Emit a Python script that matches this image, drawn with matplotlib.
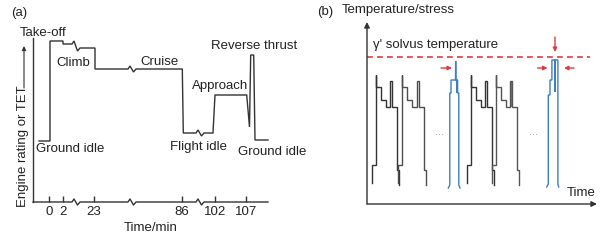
import matplotlib.pyplot as plt
from matplotlib.patches import FancyArrowPatch

plt.rcParams['font.family'] = ['Liberation Sans', 'DejaVu Sans']
plt.rcParams['font.size'] = 9.5

# (a) flight profile, schematic time position vs engine rating
flight_x = [6, 17, 17, 30, 30, 62, 62, 149.3, 150.3, 180, 182, 213.7, 216.5, 217.7, 220.7, 222, 235]
flight_h = [61, 61, 161, 161, 158, 154, 133, 133, 69, 69, 107, 107, 75, 147, 147, 62, 62]
axis_breaks = [43, 99, 167]
tick_pos = [16, 30, 61, 149, 182, 213]
tick_labels = ['0', '2', '23', '86', '102', '107']

# (b) repeated flight cycles, temperature/stress vs time
cycle_dx = [0, 0, 4, 4, 4, 9, 9, 14, 14, 18.3, 18.3, 20.6, 20.6, 25.6, 25.6, 27.3, 27.3]
cycle_h = [21, 39, 39, 129, 117, 117, 104, 104, 97, 97, 123, 123, 97, 97, 34, 34, 19]
cycle_starts = [4.7, 31.3, 99.7, 124.7]
cycle_colors = ['#333333', '#4d4d4d', '#333333', '#555555']
cycle_thick_spike = [False, False, False, True]

blue1_dx = [0, 1.5, 1.5, 2.7, 2.7, 7.2, 7.4, 7.6, 8.4, 8.4, 8.4, 9.3, 9.3, 10.5, 10.5, 11.7]
blue1_h = [16, 19, 111, 111, 124, 124, 143, 124, 124, 111, 124, 124, 111, 111, 19, 16]
blue1_start = 81.3

blue2_dx = [0, 1.6, 1.6, 3.3, 3.3, 5.2, 5.2, 8.2, 8.2, 8.2, 11.2, 11.2, 12]
blue2_h = [17, 20, 109, 109, 124, 124, 144, 144, 112, 144, 144, 20, 17]
blue2_start = 179.7

solvus_h = 147

W, H = 609, 240
TXT = '#222222'
RED = '#e0393e'
BLUE = '#3b7fc4'


def px(x, y):
    return x / W, 1 - y / H


def with_breaks(xs, hs, breaks):
    out_x, out_h = [xs[0]], [hs[0]]
    for i in range(1, len(xs)):
        x0, h0, x1, h1 = xs[i - 1], hs[i - 1], xs[i], hs[i]
        for b in breaks:
            if x0 < b < x1:
                out_x += [b - 4, b - 2, b + 1.5, b + 4]
                out_h += [h0, h0 + 3, h1 - 3, h1]
        out_x.append(x1)
        out_h.append(h1)
    return out_x, out_h


fig = plt.figure(figsize=(W / 100, H / 100), dpi=100)

# ---------------- panel (a) ----------------
ax_a = fig.add_axes([33 / W, 38 / H, 237 / W, 164 / H])
ax_a.set_xlim(0, 237)
ax_a.set_ylim(0, 164)
for s in ['top', 'right', 'bottom']:
    ax_a.spines[s].set_visible(False)
ax_a.spines['left'].set_color('#333333')
ax_a.spines['left'].set_linewidth(1)
ax_a.set_yticks([])

px_, ph_ = with_breaks(flight_x, flight_h, axis_breaks)
ax_a.plot(px_, ph_, color='#333333', lw=1, solid_joinstyle='miter')
bx, bh = with_breaks([0, 235], [0, 0], axis_breaks)
ax_a.plot(bx, bh, color='#333333', lw=1, clip_on=False)
ax_a.set_xticks(tick_pos, tick_labels)
ax_a.tick_params(axis='x', direction='in', length=4, width=1, pad=3, colors='#333333', labelcolor=TXT)

fig.text(*px(11, 13), '(a)', ha='left', va='center', color=TXT)
fig.text(*px(20, 33), 'Take-off', ha='left', va='center', color=TXT)
fig.text(*px(56, 63), 'Climb', ha='left', va='center', color=TXT)
fig.text(*px(140, 62), 'Cruise', ha='left', va='center', color=TXT)
fig.text(*px(192, 86), 'Approach', ha='left', va='center', color=TXT)
fig.text(*px(211, 46), 'Reverse thrust', ha='left', va='center', color=TXT)
fig.text(*px(36, 149), 'Ground idle', ha='left', va='center', color=TXT)
fig.text(*px(170, 147), 'Flight idle', ha='left', va='center', color=TXT)
fig.text(*px(238, 152), 'Ground idle', ha='left', va='center', color=TXT)
fig.text(*px(151, 228), 'Time/min', ha='center', va='center', color=TXT)
fig.text(*px(23, 146), 'Engine rating or TET', ha='center', va='center', rotation=90, color=TXT)
fig.add_artist(FancyArrowPatch(
    px(24, 88), px(24, 46), transform=fig.transFigure, arrowstyle='-|>',
    mutation_scale=6, color='#333333', lw=0.8, shrinkA=0, shrinkB=0))

# ---------------- panel (b) ----------------
ax_b = fig.add_axes([367 / W, 36 / H, 230 / W, 182 / H])
ax_b.set_xlim(0, 230)
ax_b.set_ylim(0, 182)
ax_b.axis('off')

arrow_kw = dict(arrowstyle='-|>', color='#333333', lw=1, mutation_scale=8, shrinkA=0, shrinkB=0)
ax_b.annotate('', xy=(0, 182), xytext=(0, 0), arrowprops=arrow_kw, annotation_clip=False)
ax_b.annotate('', xy=(230, 0), xytext=(0, 0), arrowprops=arrow_kw, annotation_clip=False)

ax_b.plot([0, 223], [solvus_h, solvus_h], color=RED, lw=1.2, dashes=(3.5, 2.5))

for start, col, thick in zip(cycle_starts, cycle_colors, cycle_thick_spike):
    ax_b.plot([start + d for d in cycle_dx], cycle_h, color=col, lw=1, solid_joinstyle='miter')
    if thick:
        ax_b.fill_betweenx([cycle_h[9], cycle_h[10]], start + cycle_dx[9], start + cycle_dx[11],
                           color='#777777', lw=0)
ax_b.plot([blue1_start + d for d in blue1_dx], blue1_h, color=BLUE, lw=1, solid_joinstyle='miter')
ax_b.plot([blue2_start + d for d in blue2_dx], blue2_h, color=BLUE, lw=1, solid_joinstyle='miter')

red_kw = dict(arrowstyle='-|>', color=RED, lw=1, mutation_scale=6, shrinkA=0, shrinkB=0)
ax_b.annotate('', xy=(85, 136), xytext=(74, 136), arrowprops=red_kw)
ax_b.annotate('', xy=(180.5, 136), xytext=(170.5, 136), arrowprops=red_kw)
ax_b.annotate('', xy=(197, 136), xytext=(207, 136), arrowprops=red_kw)
ax_b.annotate('', xy=(188, 152), xytext=(188, 167), arrowprops=red_kw)

ax_b.text(73, 72, '...', ha='center', va='center', fontsize=8, color='#999999')
ax_b.text(166, 72, '...', ha='center', va='center', fontsize=8, color='#999999')

fig.text(*px(317, 12), '(b)', ha='left', va='center', color=TXT)
fig.text(*px(342, 10), 'Temperature/stress', ha='left', va='center', color=TXT)
fig.text(*px(373, 45), "γ' solvus temperature", ha='left', va='center', color=TXT)
fig.text(*px(567, 193), 'Time', ha='left', va='center', color=TXT)

fig.savefig('out.png', dpi=100)
